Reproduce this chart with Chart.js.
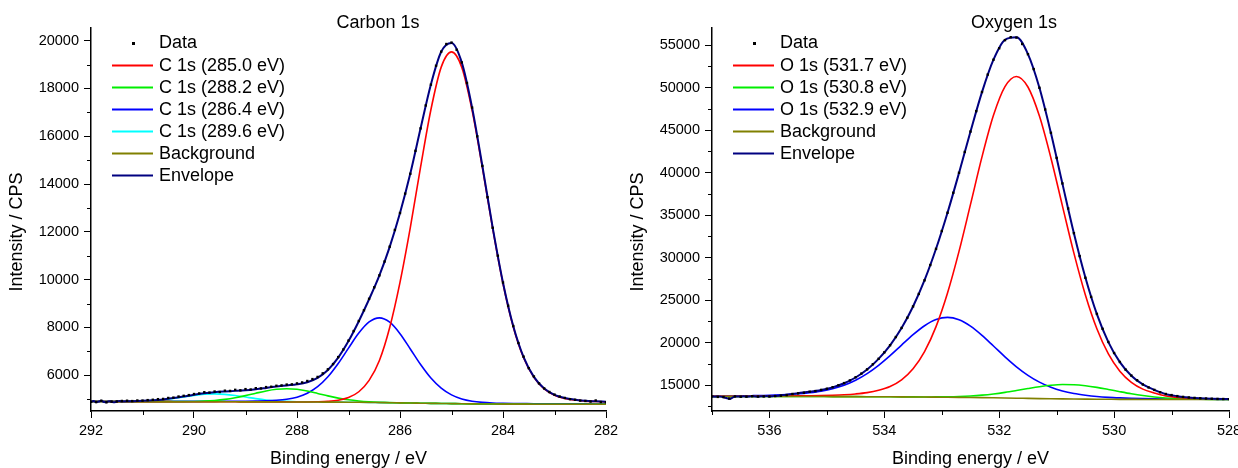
<!DOCTYPE html>
<html>
<head>
<meta charset="utf-8">
<title>XPS C 1s / O 1s</title>
<script src="https://cdn.jsdelivr.net/npm/chart.js@4.4.1/dist/chart.umd.min.js"></script>
<style>
  html, body { margin: 0; padding: 0; background: #ffffff; }
  #wrap { position: relative; width: 1238px; height: 468px; overflow: hidden; }
  #carbon { position: absolute; left: 0; top: 0; }
  #oxygen { position: absolute; left: 620px; top: 0; }
</style>
</head>
<body>
<div id="wrap">
  <canvas id="carbon" width="620" height="468"></canvas>
  <canvas id="oxygen" width="618" height="468"></canvas>
</div>
<script>
// ---------------- Carbon 1s ----------------
const cTitle = 'Carbon 1s';
const cXTicks = [292, 290, 288, 286, 284, 282];
const cXMinor = [291, 289, 287, 285, 283];
const cYTicks = [6000, 8000, 10000, 12000, 14000, 16000, 18000, 20000];
const cYMinor = [5000, 7000, 9000, 11000, 13000, 15000, 17000, 19000];
const cComponentLabels = ['C 1s (285.0 eV)', 'C 1s (288.2 eV)', 'C 1s (286.4 eV)', 'C 1s (289.6 eV)'];

// fit grid (binding energy, eV)
const cGrid = [292.0,291.8,291.6,291.4,291.2,291.0,290.8,290.6,290.4,290.2,
  290.0,289.8,289.6,289.4,289.2,289.0,288.8,288.6,288.4,288.2,
  288.0,287.8,287.6,287.4,287.2,287.0,286.8,286.6,286.4,286.2,
  286.0,285.8,285.6,285.4,285.2,285.0,284.8,284.6,284.4,284.2,
  284.0,283.8,283.6,283.4,283.2,283.0,282.8,282.6,282.4,282.2,282.0];

const cBackground = [4900,4900,4899,4899,4898,4898,4897,4896,4895,4894,
  4893,4892,4891,4890,4889,4888,4887,4886,4885,4884,
  4883,4881,4879,4877,4875,4872,4868,4863,4857,4851,
  4845,4838,4832,4826,4820,4814,4808,4803,4799,4796,
  4794,4792,4791,4790,4790,4790,4790,4790,4790,4790,4790];

const cPeak2850 = [4900,4900,4899,4899,4898,4898,4897,4896,4895,4894,
  4893,4892,4891,4890,4889,4888,4887,4886,4886,4885,
  4884,4884,4889,4906,4953,5066,5310,5785,6620,8001,
  9890,12178,14717,17110,18893,19530,18881,17087,14684,12136,
  9839,8022,6733,5910,5427,5166,5031,4962,4918,4902,4887];

const cPeak2882 = [4900,4900,4899,4899,4898,4898,4897,4896,4897,4899,
  4905,4919,4946,4991,5059,5148,5249,5345,5414,5439,
  5412,5340,5241,5137,5045,4973,4923,4890,4869,4856,
  4847,4838,4832,4826,4820,4814,4808,4803,4799,4796,
  4794,4792,4791,4790,4790,4790,4790,4790,4790,4790,4790];

const cPeak2864 = [4906,4906,4906,4907,4906,4907,4907,4907,4907,4907,
  4908,4908,4909,4911,4913,4915,4921,4931,4952,4996,
  5083,5245,5520,5935,6491,7135,7764,8231,8402,8219,
  7741,7101,6448,5884,5461,5178,5008,4915,4866,4841,
  4828,4819,4815,4811,4808,4806,4805,4803,4802,4801,4800];

const cPeak2896 = [4900,4900,4900,4903,4907,4920,4942,4978,5031,5094,
  5157,5204,5221,5202,5153,5088,5023,4968,4930,4906,
  4892,4885,4880,4877,4875,4872,4868,4863,4857,4851,
  4845,4838,4832,4826,4820,4814,4808,4803,4799,4796,
  4794,4792,4791,4790,4790,4790,4790,4790,4790,4790,4790];

const cEnvelopeEnergy = [292.00,291.95,291.90,291.85,291.80,291.75,291.70,291.65,291.60,291.55,
  291.50,291.45,291.40,291.2,291.0,290.8,290.6,290.4,290.2,
  290.0,289.8,289.6,289.4,289.2,289.0,288.8,288.6,288.4,288.2,
  288.0,287.8,287.6,287.4,287.2,287.0,286.8,286.6,286.4,286.2,
  286.0,285.8,285.6,285.4,285.2,285.0,284.8,284.6,284.4,284.2,
  284.0,283.8,283.6,283.4,283.2,283.0,282.8,282.6,282.4,282.2,282.0];
const cEnvelope = [4885,4920,4870,4900,4930,4880,4875,4915,4890,4870,
  4905,4925,4905,4915,4929,4952,4989,5045,5112,
  5184,5247,5294,5324,5347,5375,5419,5472,5527,5574,
  5622,5711,5893,6224,6739,7430,8261,9180,10177,11374,
  12788,14441,16333,18168,19534,19900,19081,17199,14751,12181,
  9873,8049,6757,5931,5445,5182,5046,4975,4930,4913,4897];

const cDataEnergy = [292.0,291.9,291.8,291.7,291.6,291.5,291.4,291.3,291.2,291.1,
  291.0,290.9,290.8,290.7,290.6,290.5,290.4,290.3,290.2,290.1,
  290.0,289.9,289.8,289.7,289.6,289.5,289.4,289.3,289.2,289.1,
  289.0,288.9,288.8,288.7,288.6,288.5,288.4,288.3,288.2,288.1,
  288.0,287.9,287.8,287.7,287.6,287.5,287.4,287.3,287.2,287.1,
  287.0,286.9,286.8,286.7,286.6,286.5,286.4,286.3,286.2,286.1,
  286.0,285.9,285.8,285.7,285.6,285.5,285.4,285.3,285.2,285.1,
  285.0,284.9,284.8,284.7,284.6,284.5,284.4,284.3,284.2,284.1,
  284.0,283.9,283.8,283.7,283.6,283.5,283.4,283.3,283.2,283.1,
  283.0,282.9,282.8,282.7,282.6,282.5,282.4,282.3,282.2,282.1,282.0];
const cDataCounts = [4890,4880,4935,4870,4900,4905,4925,4935,4920,4945,
  4940,4960,4975,5000,5010,5050,5065,5110,5140,5170,
  5215,5240,5290,5275,5320,5300,5355,5345,5390,5370,
  5420,5405,5460,5450,5505,5520,5560,5575,5610,5620,
  5660,5700,5760,5840,5930,6080,6250,6470,6760,7080,
  7450,7850,8270,8720,9200,9680,10180,10760,11380,12080,
  12790,13600,14430,15390,16330,17290,18160,18950,19540,19860,
  19920,19620,19090,18230,17200,16000,14760,13450,12170,11000,
  9880,8910,8060,7350,6780,6300,5950,5660,5450,5300,
  5190,5110,5050,5000,4975,4940,4925,4900,4945,4880,4870];

// ---------------- Oxygen 1s ----------------
const oTitle = 'Oxygen 1s';
const oXTicks = [536, 534, 532, 530, 528];
const oXMinor = [537, 535, 533, 531, 529];
const oYTicks = [15000, 20000, 25000, 30000, 35000, 40000, 45000, 50000, 55000];
const oYMinor = [12500, 17500, 22500, 27500, 32500, 37500, 42500, 47500, 52500];
const oComponentLabels = ['O 1s (531.7 eV)', 'O 1s (530.8 eV)', 'O 1s (532.9 eV)'];

const oGrid = [537.0,536.9,536.7,536.5,536.3,536.1,535.9,535.7,535.5,535.3,
  535.1,534.9,534.7,534.5,534.3,534.1,533.9,533.7,533.5,533.3,
  533.1,532.9,532.7,532.5,532.3,532.1,531.9,531.7,531.5,531.3,
  531.1,530.9,530.7,530.5,530.3,530.1,529.9,529.7,529.5,529.3,
  529.1,528.9,528.7,528.5,528.3,528.1,528.0];

const oBackground = [13660,13660,13659,13658,13657,13656,13655,13654,13652,13650,
  13648,13645,13642,13638,13633,13627,13620,13612,13603,13592,
  13580,13567,13553,13537,13520,13500,13478,13455,13432,13410,
  13390,13372,13357,13344,13333,13325,13319,13314,13310,13307,
  13305,13304,13303,13302,13302,13302,13302];

const oPeak5317 = [13680,13682,13685,13688,13693,13698,13705,13714,13727,13745,
  13768,13805,13862,13958,14113,14388,14831,15614,16914,18936,
  21876,25829,30720,36248,41839,46728,50104,51300,50058,46638,
  41709,36083,30524,25606,21629,18669,16630,15316,14521,14068,
  13705,13554,13453,13392,13357,13337,13332];

const oPeak5308 = [13660,13660,13659,13658,13657,13656,13655,13654,13652,13650,
  13648,13645,13642,13638,13633,13627,13621,13615,13609,13605,
  13607,13621,13654,13715,13813,13954,14139,14358,14591,14808,
  14975,15059,15044,14929,14731,14484,14222,13975,13764,13600,
  13483,13405,13357,13329,13315,13308,13306];

const oPeak5329 = [13698,13702,13714,13730,13752,13781,13825,13884,13972,14108,
  14292,14572,14989,15572,16350,17325,18466,19704,20926,21981,
  22706,22957,22679,21926,20843,19592,18324,17153,16149,15344,
  14737,14299,14001,13802,13653,13555,13489,13439,13405,13379,
  13360,13346,13337,13330,13324,13320,13318];

const oEnvelopeEnergy = [537.00,536.95,536.90,536.85,536.80,536.75,536.70,536.65,536.60,536.55,
  536.50,536.45,536.40,536.35,536.30,536.25,536.20,536.15,536.10,536.05,
  536.00,535.95,535.90,535.85,535.80,535.75,535.70,
  535.5,535.3,535.1,534.9,534.7,534.5,534.3,534.1,533.9,533.7,
  533.5,533.3,533.1,532.9,532.7,532.5,532.3,532.1,531.9,531.7,
  531.5,531.3,531.1,530.9,530.7,530.5,530.3,530.1,529.9,529.7,
  529.5,529.3,529.1,528.9,528.7,528.5,528.3,528.1,528.0];
const oEnvelope = [13660,13630,13670,13640,13570,13480,13350,13500,13670,13650,
  13630,13680,13640,13650,13690,13660,13640,13680,13670,13700,
  13660,13690,13720,13740,13800,13830,13870,
  14047,14203,14412,14732,15209,15892,16830,18086,19678,21709,
  24243,27338,31029,35273,39947,44815,49455,53274,55611,55901,
  53934,49970,44641,38697,32855,27649,23347,20058,17703,16102,
  15070,14433,13938,13697,13541,13447,13392,13361,13352];

const oDataEnergy = [537.0,536.9,536.8,536.7,536.6,536.5,536.4,536.3,536.2,536.1,
  536.0,535.9,535.8,535.7,535.6,535.5,535.4,535.3,535.2,535.1,
  535.0,534.9,534.8,534.7,534.6,534.5,534.4,534.3,534.2,534.1,
  534.0,533.9,533.8,533.7,533.6,533.5,533.4,533.3,533.2,533.1,
  533.0,532.9,532.8,532.7,532.6,532.5,532.4,532.3,532.2,532.1,
  532.0,531.9,531.8,531.7,531.6,531.5,531.4,531.3,531.2,531.1,
  531.0,530.9,530.8,530.7,530.6,530.5,530.4,530.3,530.2,530.1,
  530.0,529.9,529.8,529.7,529.6,529.5,529.4,529.3,529.2,529.1,
  529.0,528.9,528.8,528.7,528.6,528.5,528.4,528.3,528.2,528.1,528.0];
const oDataCounts = [13660,13610,13590,13420,13660,13630,13640,13690,13650,13670,
  13660,13710,13750,13820,13950,14030,14100,14220,14290,14430,
  14570,14750,14970,15230,15550,15920,16350,16850,17450,18090,
  18850,19690,20650,21720,22920,24250,25720,27320,29120,31020,
  33120,35270,37620,39970,42420,44820,47220,49470,51520,53270,
  54620,55570,55920,55870,55120,53920,52170,49970,47420,44670,
  41720,38720,35770,32870,30170,27620,25370,23370,21620,20070,
  18770,17720,16820,16120,15570,15070,14720,14430,14150,13950,
  13820,13700,13610,13540,13490,13450,13420,13390,13370,13360,13350];

// ---------------- drawing ----------------
const FONT = "'Liberation Sans', Arial, Helvetica, sans-serif";
const COLORS = { red: '#ff0000', green: '#00ee00', blue: '#0000ff', cyan: '#00ffff', bg: '#808000', env: '#000080' };

Chart.defaults.font.family = FONT;
Chart.defaults.color = '#000';

function zip(xs, ys) { return xs.map((x, i) => ({ x: x, y: ys[i] })); }

// panel title, axis titles, minor ticks and the in-plot legend
const panelDecor = {
  id: 'panelDecor',
  afterDraw(chart, args, o) {
    const ctx = chart.ctx, a = chart.chartArea;
    const xs = chart.scales.x, ys = chart.scales.y;
    ctx.save();
    ctx.strokeStyle = '#000';
    ctx.lineWidth = 1;
    ctx.beginPath();
    o.minorX.forEach(v => {
      const px = Math.round(xs.getPixelForValue(v)) + 0.5;
      ctx.moveTo(px, a.bottom); ctx.lineTo(px, a.bottom + 4);
    });
    o.minorY.forEach(v => {
      const py = Math.round(ys.getPixelForValue(v)) + 0.5;
      ctx.moveTo(a.left, py); ctx.lineTo(a.left - 4, py);
    });
    ctx.stroke();

    ctx.fillStyle = '#000';
    ctx.font = '18px ' + FONT;
    ctx.textAlign = 'center';
    ctx.textBaseline = 'middle';
    ctx.fillText(o.title, o.titleX, 23);

    // axis titles
    ctx.fillText('Binding energy / eV', (a.left + a.right) / 2, 459);
    ctx.save();
    ctx.translate(a.left - 74, 232);
    ctx.rotate(-Math.PI / 2);
    ctx.fillText('Intensity / CPS', 0, 0);
    ctx.restore();

    // legend
    ctx.textAlign = 'left';
    const x1 = a.left + 21, x2 = a.left + 62, tx = a.left + 68;
    chart.data.datasets.forEach((ds, i) => {
      const y = 42.5 + i * 22.15;
      if (ds.legendKind === 'point') {
        ctx.fillStyle = '#000';
        ctx.fillRect(Math.round((x1 + x2) / 2) - 1, Math.round(y) - 1, 3, 3);
      } else {
        ctx.strokeStyle = ds.borderColor;
        ctx.lineWidth = 2;
        ctx.beginPath();
        ctx.moveTo(x1, Math.round(y) + 0.5); ctx.lineTo(x2, Math.round(y) + 0.5);
        ctx.stroke();
      }
      ctx.fillStyle = '#000';
      ctx.fillText(ds.label, tx, y + 1);
    });
    ctx.restore();
  }
};

function buildPanel(canvasId, p) {
  const sets = [{
    label: 'Data', legendKind: 'point',
    data: zip(p.dataE, p.dataY),
    showLine: false, pointStyle: 'rect', pointRadius: 1.7, pointBorderWidth: 0,
    pointBackgroundColor: '#000', borderColor: '#000', backgroundColor: '#000', order: 0
  }];
  p.components.forEach((c, i) => sets.push({
    label: c.label, data: zip(p.grid, c.values),
    borderColor: c.color, borderWidth: 1.6, pointRadius: 0,
    cubicInterpolationMode: 'monotone', order: 3 + i
  }));
  sets.push({
    label: 'Background', data: zip(p.grid, p.bg),
    borderColor: COLORS.bg, borderWidth: 1.6, pointRadius: 0,
    cubicInterpolationMode: 'monotone', order: 2
  });
  sets.push({
    label: 'Envelope', data: zip(p.envE, p.env),
    borderColor: COLORS.env, borderWidth: 2, pointRadius: 0,
    cubicInterpolationMode: 'monotone', order: 1
  });

  const tickGrid = {
    display: true, drawOnChartArea: false, drawTicks: true,
    tickLength: 7, tickColor: '#000', tickWidth: 1, color: '#000'
  };

  return new Chart(document.getElementById(canvasId), {
    type: 'line',
    data: { datasets: sets },
    options: {
      responsive: false,
      animation: false,
      devicePixelRatio: 1,
      layout: { padding: { top: 28, right: p.padRight, left: 0, bottom: 0 } },
      plugins: {
        legend: { display: false },
        tooltip: { enabled: false },
        panelDecor: { title: p.title, titleX: p.titleX, minorX: p.minorX, minorY: p.minorY }
      },
      scales: {
        x: {
          type: 'linear', reverse: true, min: p.xMin, max: p.xMax,
          grid: tickGrid,
          border: { display: true, color: '#000', width: 1.5 },
          ticks: { font: { size: 14.5 }, color: '#000', padding: 4, maxRotation: 0,
                   callback: v => String(v) },
          afterBuildTicks: s => { s.ticks = p.xTicks.map(v => ({ value: v })); },
          afterFit: s => { s.height = 57; s.paddingLeft = 0; s.paddingRight = 0; }
        },
        y: {
          type: 'linear', min: p.yMin, max: p.yMax,
          grid: tickGrid,
          border: { display: true, color: '#000', width: 1.5 },
          ticks: { font: { size: 14.5 }, color: '#000', padding: 5,
                   callback: v => String(v) },
          afterBuildTicks: s => { s.ticks = p.yTicks.map(v => ({ value: v })); },
          afterFit: s => { s.width = p.yWidth; s.paddingTop = 0; s.paddingBottom = 0; }
        }
      }
    },
    plugins: [panelDecor]
  });
}

buildPanel('carbon', {
  title: cTitle, titleX: 378, xMin: 282, xMax: 292, yMin: 4505, yMax: 20530,
  xTicks: cXTicks, yTicks: cYTicks, minorX: cXMinor, minorY: cYMinor,
  yWidth: 91, padRight: 14,
  grid: cGrid, bg: cBackground,
  envE: cEnvelopeEnergy, env: cEnvelope,
  dataE: cDataEnergy, dataY: cDataCounts,
  components: [
    { label: cComponentLabels[0], values: cPeak2850, color: COLORS.red },
    { label: cComponentLabels[1], values: cPeak2882, color: COLORS.green },
    { label: cComponentLabels[2], values: cPeak2864, color: COLORS.blue },
    { label: cComponentLabels[3], values: cPeak2896, color: COLORS.cyan }
  ]
});

buildPanel('oxygen', {
  title: oTitle, titleX: 394, xMin: 528, xMax: 537, yMin: 11950, yMax: 57000,
  xTicks: oXTicks, yTicks: oYTicks, minorX: oXMinor, minorY: oYMinor,
  yWidth: 92, padRight: 9,
  grid: oGrid, bg: oBackground,
  envE: oEnvelopeEnergy, env: oEnvelope,
  dataE: oDataEnergy, dataY: oDataCounts,
  components: [
    { label: oComponentLabels[0], values: oPeak5317, color: COLORS.red },
    { label: oComponentLabels[1], values: oPeak5308, color: COLORS.green },
    { label: oComponentLabels[2], values: oPeak5329, color: COLORS.blue }
  ]
});
</script>
</body>
</html>
